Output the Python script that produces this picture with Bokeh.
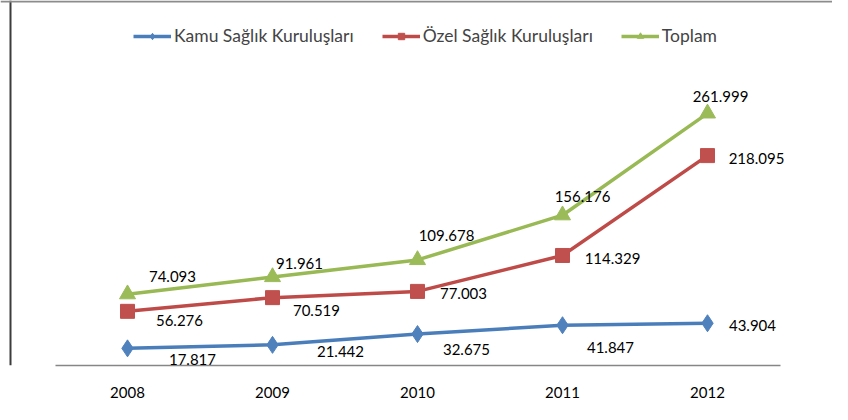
from bokeh.plotting import figure
from bokeh.models import ColumnDataSource, Range1d, FixedTicker, Legend, LegendItem, LabelSet, Span
from bokeh.core.properties import value
from bokeh.embed import file_html
from bokeh.resources import INLINE

years = [2008, 2009, 2010, 2011, 2012]
kamu = [17.817, 21.442, 32.675, 41.847, 43.904]
ozel = [56.276, 70.519, 77.003, 114.329, 218.095]
toplam = [74.093, 91.961, 109.678, 156.176, 261.999]
kamu_labels = ["17.817", "21.442", "32.675", "41.847", "43.904"]
ozel_labels = ["56.276", "70.519", "77.003", "114.329", "218.095"]
toplam_labels = ["74.093", "91.961", "109.678", "156.176", "261.999"]

# label offsets in screen px (right, up) - styling only
kamu_dx = [65, 68, 49, 48, 45]
kamu_dy = [-11, -7, -15, -22, -2]
ozel_dx = [52, 44, 46, 50, 49]
ozel_dy = [-9, -13, -2, -3, -3]
top_dx = [45, 27, 29, 20, 13]
top_dy = [18, 13, 24, 19, 17]

# layout (px)
W, H = 832, 404
PX_PER_YEAR = 145.0
FIRST_X = 127.0      # screen x of first category
AXIS_Y = 365.0       # screen y of the value 0 / axis line
PX_PER_UNIT = 0.9624
BORDER_X = 10.0      # screen x of left chart border

p = figure(width=W, height=H, output_backend="svg", toolbar_location=None,
           x_range=Range1d(years[0] - FIRST_X / PX_PER_YEAR, years[0] + (W - FIRST_X) / PX_PER_YEAR),
           y_range=Range1d(0, AXIS_Y / PX_PER_UNIT),
           min_border_left=0, min_border_right=0, min_border_top=0, min_border_bottom=int(H - AXIS_Y))
p.outline_line_color = None
p.xgrid.grid_line_color = None
p.ygrid.grid_line_color = None
p.yaxis.visible = False
p.xaxis.ticker = FixedTicker(ticks=years)
p.xaxis.bounds = (years[0] - 0.5, years[-1] + 0.5)
p.xaxis.axis_line_color = "#868686"
p.xaxis.axis_line_width = 1.5
p.xaxis.major_tick_line_color = None
p.xaxis.minor_tick_line_color = None
p.xaxis.major_label_text_font = "Lato"
p.xaxis.major_label_text_font_size = "15px"
p.xaxis.major_label_text_color = "#000000"
p.xaxis.major_label_standoff = 15

# chart-area borders
p.add_layout(Span(location=years[0] - (FIRST_X - BORDER_X) / PX_PER_YEAR, dimension="height",
                  line_color="#3c3c3c", line_width=2))
p.add_layout(Span(location=(AXIS_Y - 1) / PX_PER_UNIT, dimension="width",
                  line_color="#8c8c8c", line_width=2))

series = [
    ("Kamu Sağlık Kuruluşları", kamu, kamu_labels, kamu_dx, kamu_dy, "#4A7EBB", "#4F81BD", "diamond", 17),
    ("Özel Sağlık Kuruluşları", ozel, ozel_labels, ozel_dx, ozel_dy, "#BE4B48", "#C0504D", "square", 14),
    ("Toplam", toplam, toplam_labels, top_dx, top_dy, "#98B954", "#9BBB59", "triangle", 16),
]

items = []
for name, vals, labs, dx, dy, lc, mc, marker, size in series:
    src = ColumnDataSource(dict(x=years, y=vals, t=labs, dx=dx, dy=dy))
    ln = p.line("x", "y", source=src, line_color=lc, line_width=3.5)
    sc = p.scatter("x", "y", source=src, marker=marker, size=size, fill_color=mc, line_color=mc)
    p.add_layout(LabelSet(x="x", y="y", text="t", source=src, x_offset="dx", y_offset="dy",
                          text_font=value("Lato"), text_font_size=value("15px"), text_color="#000000",
                          text_align="center", text_baseline="middle"))
    items.append(LegendItem(label=name, renderers=[ln, sc]))

legend = Legend(items=items, orientation="horizontal", location=(133, 319),
                glyph_width=38, glyph_height=16, label_standoff=3, spacing=28,
                label_text_font="Lato", label_text_font_size="17.5px",
                background_fill_alpha=0, border_line_color=None, margin=0, padding=0)
p.add_layout(legend)

open("out.html", "w").write(file_html(p, INLINE))
